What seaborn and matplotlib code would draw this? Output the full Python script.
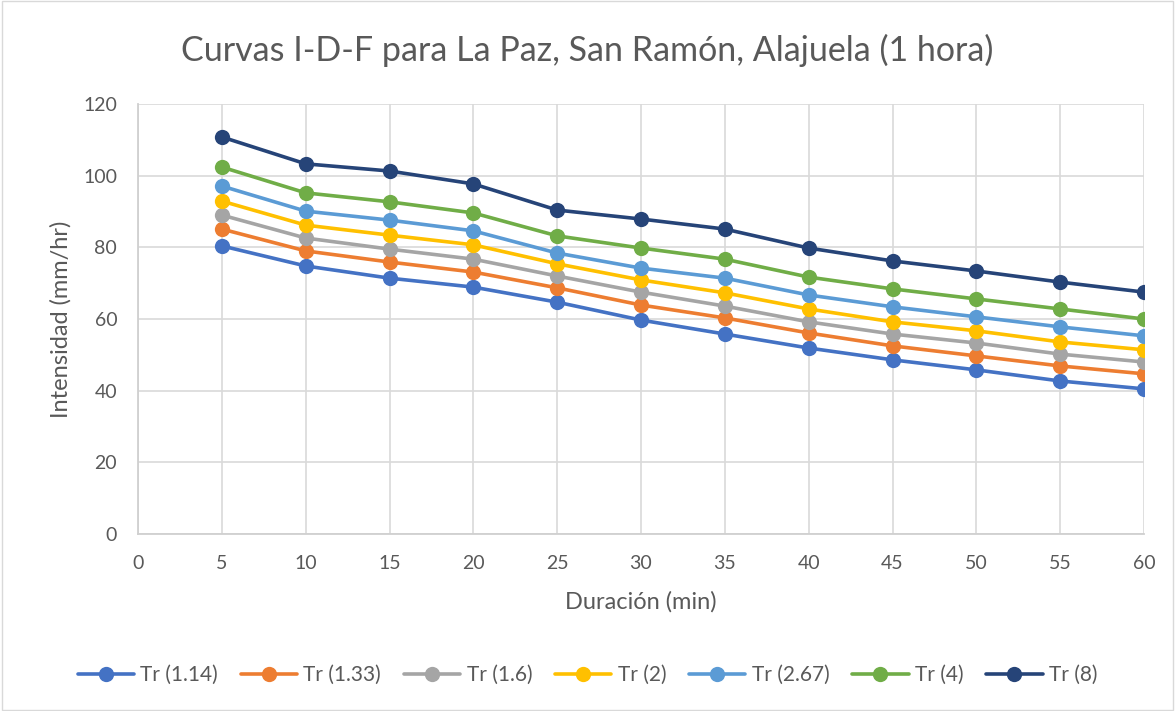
import numpy as np
import pandas as pd
import seaborn as sns
import matplotlib.pyplot as plt
from matplotlib.patches import Rectangle

# Duration (min) and intensity (mm/hr)
duracion = [5, 10, 15, 20, 25, 30, 35, 40, 45, 50, 55, 60]
tr_114 = [80.4, 74.8, 71.4, 68.9, 64.7, 59.7, 55.8, 51.9, 48.6, 45.8, 42.7, 40.5]
tr_133 = [85.1, 79.0, 75.9, 73.1, 68.7, 63.9, 60.3, 56.1, 52.5, 49.7, 46.9, 44.7]
tr_16 = [89.0, 82.6, 79.5, 76.7, 72.0, 67.5, 63.6, 59.2, 55.8, 53.3, 50.2, 48.0]
tr_2 = [92.9, 86.2, 83.4, 80.7, 75.4, 70.9, 67.3, 62.8, 59.2, 56.7, 53.6, 51.4]
tr_267 = [97.1, 90.1, 87.6, 84.6, 78.4, 74.2, 71.4, 66.7, 63.4, 60.6, 57.8, 55.3]
tr_4 = [102.4, 95.2, 92.7, 89.6, 83.2, 79.8, 76.7, 71.7, 68.4, 65.6, 62.8, 60.0]
tr_8 = [110.8, 103.3, 101.3, 97.7, 90.4, 87.9, 85.1, 79.8, 76.2, 73.4, 70.3, 67.5]

series = {
    "Tr (1.14)": tr_114,
    "Tr (1.33)": tr_133,
    "Tr (1.6)": tr_16,
    "Tr (2)": tr_2,
    "Tr (2.67)": tr_267,
    "Tr (4)": tr_4,
    "Tr (8)": tr_8,
}
colores = ["#4472C4", "#ED7D31", "#A5A5A5", "#FFC000", "#5B9BD5", "#70AD47", "#264478"]

df = pd.DataFrame(
    [(d, v, name) for name, vals in series.items() for d, v in zip(duracion, vals)],
    columns=["Duracion", "Intensidad", "Serie"],
)

sns.set_theme(style="white")
plt.rcParams["font.family"] = ["Lato", "DejaVu Sans"]

fig = plt.figure(figsize=(11.75, 7.11), dpi=100)
ax = fig.add_axes([138 / 1175, 1 - 534 / 711, (1144 - 138) / 1175, (534 - 104) / 711])

sns.lineplot(data=df, x="Duracion", y="Intensidad", hue="Serie", palette=colores,
             marker="o", markersize=11, markeredgewidth=0, linewidth=2.6, ax=ax)

ax.set_xlim(0, 60)
ax.set_ylim(0, 120)
ax.set_xticks(range(0, 61, 5))
ax.set_yticks(range(0, 121, 20))
ax.grid(True, color="#D9D9D9", linewidth=1.2)
ax.set_axisbelow(True)
for s in ["top", "right"]:
    ax.spines[s].set_visible(False)
for s in ["bottom", "left"]:
    ax.spines[s].set_color("#D0D0D0")
    ax.spines[s].set_linewidth(1.3)
ax.tick_params(axis="both", length=0, labelsize=14, labelcolor="#595959", pad=15)

ax.set_xlabel("Duración (min)", fontsize=17, color="#595959", labelpad=14)
ax.set_ylabel("Intensidad (mm/hr)", fontsize=17, color="#595959", labelpad=8)
fig.text(0.5, 1 - 50 / 711, "Curvas I-D-F para La Paz, San Ramón, Alajuela (1 hora)",
         ha="center", va="center", fontsize=24.5, color="#595959")

handles, labels = ax.get_legend_handles_labels()
ax.legend(handles, labels, loc="center", ncol=7, frameon=False, fontsize=15,
          labelcolor="#595959", handlelength=2.7, columnspacing=1.1, handletextpad=0.3)
leg = ax.get_legend()
leg.set_bbox_to_anchor((0.5, 1 - 675 / 711), transform=fig.transFigure)

fig.patches.append(Rectangle((0.002, 0.002), 0.996, 0.996, transform=fig.transFigure,
                             fill=False, edgecolor="#D9D9D9", linewidth=1))

fig.savefig("out.png", dpi=100)
